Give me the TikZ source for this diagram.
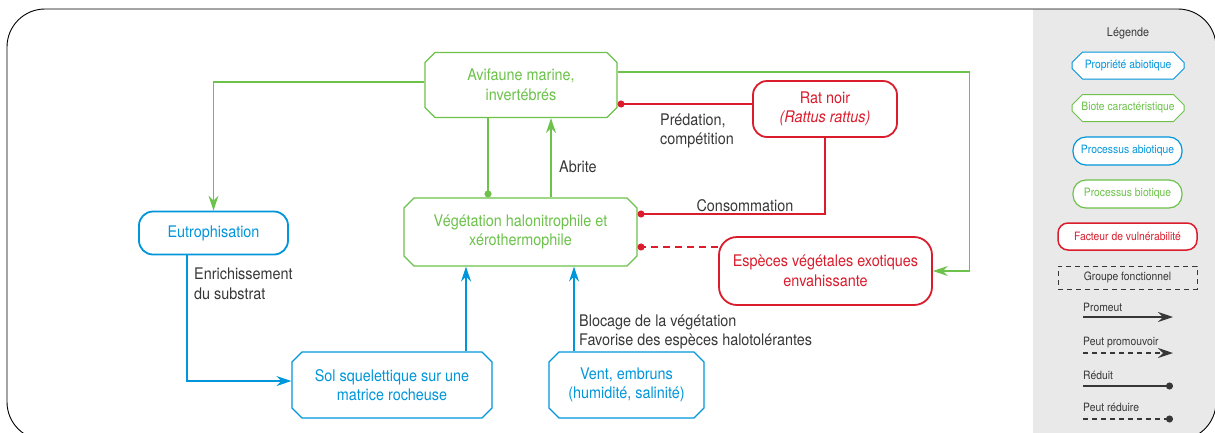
\documentclass[tikz,border=0pt]{standalone}
\usepackage{fontspec}
\setmainfont{TeX Gyre Heros}[FakeStretch=0.9]
\usetikzlibrary{arrows.meta,shapes.misc}
\definecolor{biogreen}{RGB}{108,194,74}
\definecolor{abioblue}{RGB}{0,150,219}
\definecolor{vulnred}{RGB}{218,28,44}
\definecolor{labelgray}{RGB}{55,55,55}
\definecolor{panelgray}{RGB}{233,233,233}

\begin{document}
\begin{tikzpicture}[
  x=1pt, y=-1pt,
  font=\fontsize{16}{19.5}\selectfont,
  chamf/.style={chamfered rectangle, chamfered rectangle xsep=5pt, chamfered rectangle ysep=5pt, draw, fill=white, align=center, line width=1.1pt, inner sep=0pt},
  pill/.style={rectangle, rounded corners=14pt, draw, fill=white, align=center, line width=1.8pt, inner sep=0pt},
  bio/.style={chamf, draw=biogreen, text=biogreen},
  abio/.style={chamf, draw=abioblue, text=abioblue},
  abioproc/.style={pill, draw=abioblue, text=abioblue},
  bioproc/.style={pill, draw=biogreen, text=biogreen},
  vuln/.style={pill, draw=vulnred, text=vulnred},
  lbl/.style={text=labelgray, align=left, inner sep=0pt},
  legfont/.style={font=\fontsize{11.5}{14}\selectfont},
  legchamf/.style={legfont, chamfered rectangle xsep=4.5pt, chamfered rectangle ysep=6pt, minimum width=112pt, minimum height=27pt, line width=1pt},
  legpill/.style={legfont, rounded corners=13pt, minimum width=109pt, minimum height=28pt, line width=1.2pt},
  conn/.style={line width=1.3pt},
  reduce/.style={conn, -{Circle[length=7pt]}},
  >={Stealth[length=15pt, width=10pt, inset=5pt]}
]
\useasboundingbox (0,0) rectangle (1215,432);
% frame and legend panel
\begin{scope}
  \clip[rounded corners=38pt] (7,9) rectangle (1216,440);
  \fill[panelgray] (1033,0) rectangle (1230,450);
\end{scope}
\draw[rounded corners=38pt, line width=0.9pt] (7,9) rectangle (1216,440);

% main nodes
\node[bio, minimum width=192pt, minimum height=65pt] (avi) at (521,85) {Avifaune marine,\\invertébrés};
\node[vuln, minimum width=144pt, minimum height=56pt] (rat) at (825,109) {Rat noir\\\textit{(Rattus rattus)}};
\node[bio, minimum width=233pt, minimum height=68pt] (veg) at (520.5,232) {Végétation halonitrophile et\\xérothermophile};
\node[abioproc, minimum width=149pt, minimum height=43pt] (eut) at (213.5,233) {Eutrophisation};
\node[vuln, rounded corners=18pt, minimum width=213pt, minimum height=68pt] (esp) at (825.5,271) {Espèces végétales exotiques\\envahissante};
\node[abio, minimum width=200pt, minimum height=66pt] (sol) at (392,385) {Sol squelettique sur une\\matrice rocheuse};
\node[abio, minimum width=155pt, minimum height=66pt] (vent) at (626.5,385) {Vent, embruns\\(humidité, salinité)};

% connectors
\draw[conn, biogreen, ->] ([yshift=3pt]avi.west) -| (eut.north);
\draw[conn, biogreen, ->] ([yshift=13pt]avi.east) -- ++(352,0) |- (esp.east);
\coordinate (ratW) at ([yshift=5pt]rat.west);
\draw[reduce, vulnred] (ratW) -- (ratW -| avi.east);
\draw[reduce, vulnred] (rat.south) |- ([yshift=18pt]veg.east);
\coordinate (vegSE) at ([yshift=-15pt]veg.east);
\draw[reduce, vulnred, dash pattern=on 7pt off 5pt] (esp.west |- vegSE) -- (vegSE);
\coordinate (aviS) at ([xshift=-33pt]avi.south);
\draw[reduce, biogreen] (aviS) -- (aviS |- veg.north);
\coordinate (vegN) at ([xshift=30.5pt]veg.north);
\draw[conn, biogreen, ->] (vegN) -- (vegN |- avi.south);
\coordinate (eutS) at ([xshift=-26.5pt]eut.south);
\draw[conn, abioblue, ->] (eutS) |- ([yshift=4pt]sol.west);
\coordinate (solN) at ([xshift=74pt]sol.north);
\draw[conn, abioblue, ->] (solN) -- (solN |- veg.south);
\coordinate (ventN) at ([xshift=-52.5pt]vent.north);
\draw[conn, abioblue, ->] (ventN) -- (ventN |- veg.south);

% labels
\node[lbl, anchor=west] (lblPred) at (660,131) {Prédation,\\compétition};
\node[lbl, anchor=base] (lblCons) at (745,211) {Consommation};
\node[lbl, anchor=base west] (lblAbrite) at (559,172) {Abrite};
\node[lbl, anchor=west] (lblEnrich) at (194,284) {Enrichissement\\du substrat};
\node[lbl, anchor=west] (lblBlocage) at (579,332) {Blocage de la végétation\\Favorise des espèces halotolérantes};

% legend
\node[legfont, font=\fontsize{12}{14}\selectfont, text=labelgray] (legTitle) at (1128,33) {Légende};
\node[abio, legchamf] (legProp) at (1128,65.5) {Propriété abiotique};
\node[bio, legchamf] (legBiote) at (1128,108) {Biote caractéristique};
\node[abioproc, legpill] (legPabio) at (1127.5,151) {Processus abiotique};
\node[bioproc, legpill] (legPbio) at (1127.5,194) {Processus biotique};
\node[vuln, legfont, rounded corners=10pt, minimum width=139pt, minimum height=27pt, line width=1.5pt] (legVuln) at (1127.5,236.5) {Facteur de vulnérabilité};
\node[legfont, draw=labelgray, text=labelgray, dash pattern=on 5pt off 4pt, line width=1pt, minimum width=139pt, minimum height=23pt] (legGroup) at (1127.5,277.5) {Groupe fonctionnel};
\node[lbl, legfont, anchor=base west] (legProm) at (1083,311) {Promeut};
\draw[conn, labelgray, ->] ([yshift=-6pt]legProm.base west) -- ++(90,0);
\node[lbl, legfont, anchor=base west] (legPprom) at (1083,345) {Peut promouvoir};
\draw[conn, labelgray, ->, dash pattern=on 5pt off 4pt] ([yshift=-8pt]legPprom.base west) -- ++(90,0);
\node[lbl, legfont, anchor=base west] (legRed) at (1083,379) {Réduit};
\draw[reduce, labelgray] ([yshift=-7pt]legRed.base west) -- ++(90,0);
\node[lbl, legfont, anchor=base west] (legPred) at (1083,411) {Peut réduire};
\draw[reduce, labelgray, dash pattern=on 5pt off 4pt] ([yshift=-8pt]legPred.base west) -- ++(90,0);
\end{tikzpicture}
\end{document}
